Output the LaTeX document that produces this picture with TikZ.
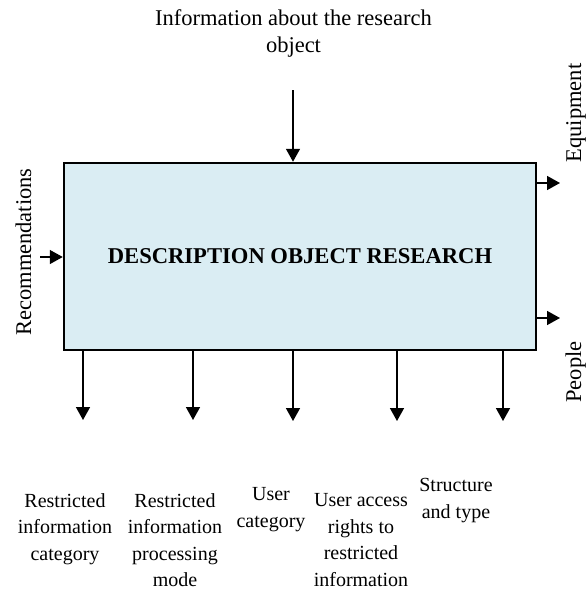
\documentclass[tikz,border=0pt]{standalone}
\usepackage{fontspec}
\setmainfont{Liberation Serif}
\usetikzlibrary{arrows.meta}
\definecolor{boxfill}{RGB}{218,237,243}
\begin{document}
\begin{tikzpicture}[x=1pt,y=-1pt,
  mainbox/.style={draw=black,line width=2.5pt,fill=boxfill,minimum width=472pt,minimum height=187pt,inner sep=0pt,font=\fontsize{22.6}{26}\selectfont\bfseries},
  flow/.style={line width=1.5pt,-{Triangle[width=14pt,length=13pt]}},
  toplabel/.style={align=center,inner sep=0pt,anchor=north,font=\fontsize{22.5}{27}\selectfont},
  botlabel/.style={align=center,inner sep=0pt,anchor=north,font=\fontsize{20}{26.5}\selectfont},
  sidelabel/.style={rotate=90,inner sep=0pt,anchor=base,font=\fontsize{22.5}{27}\selectfont}]
\fill[white] (0,0) rectangle (587,592);
\useasboundingbox (0,0) rectangle (587,592);

\node[mainbox] (box) at (300,256.5) {DESCRIPTION OBJECT RESEARCH};

\node[toplabel] (info) at (293.5,9.7) {Information about the research\\object};
\node[sidelabel] (rec) at (31,252) {Recommendations};
\node[sidelabel] (equip) at (581,113) {Equipment};
\node[sidelabel] (people) at (581,372) {People};

\node[botlabel] (b1) at (65,493.4) {Restricted\\information\\category};
\node[botlabel] (b2) at (175,493.4) {Restricted\\information\\processing\\mode};
\node[botlabel] (b3) at (271,487.4) {User\\category};
\node[botlabel] (b4) at (361,493.5) {User access\\rights to\\restricted\\information};
\node[botlabel] (b5) at (456,478.4) {Structure\\and type};

\coordinate (t0) at (293,90);
\coordinate (r0) at (40,257);
\coordinate (e1) at (560,183);
\coordinate (p1) at (560,318);
\coordinate (d1) at (83,420);
\coordinate (d2) at (193,420);
\coordinate (d3) at (293,421);
\coordinate (d4) at (397,421);
\coordinate (d5) at (503,421);

\draw[flow] (t0) -- (box.north -| t0);
\draw[flow] (r0) -- (box.west |- r0);
\draw[flow] (box.east |- e1) -- (e1);
\draw[flow] (box.east |- p1) -- (p1);
\foreach \d in {d1,d2,d3,d4,d5}{
  \draw[flow] (box.south -| \d) -- (\d);
}
\end{tikzpicture}
\end{document}
